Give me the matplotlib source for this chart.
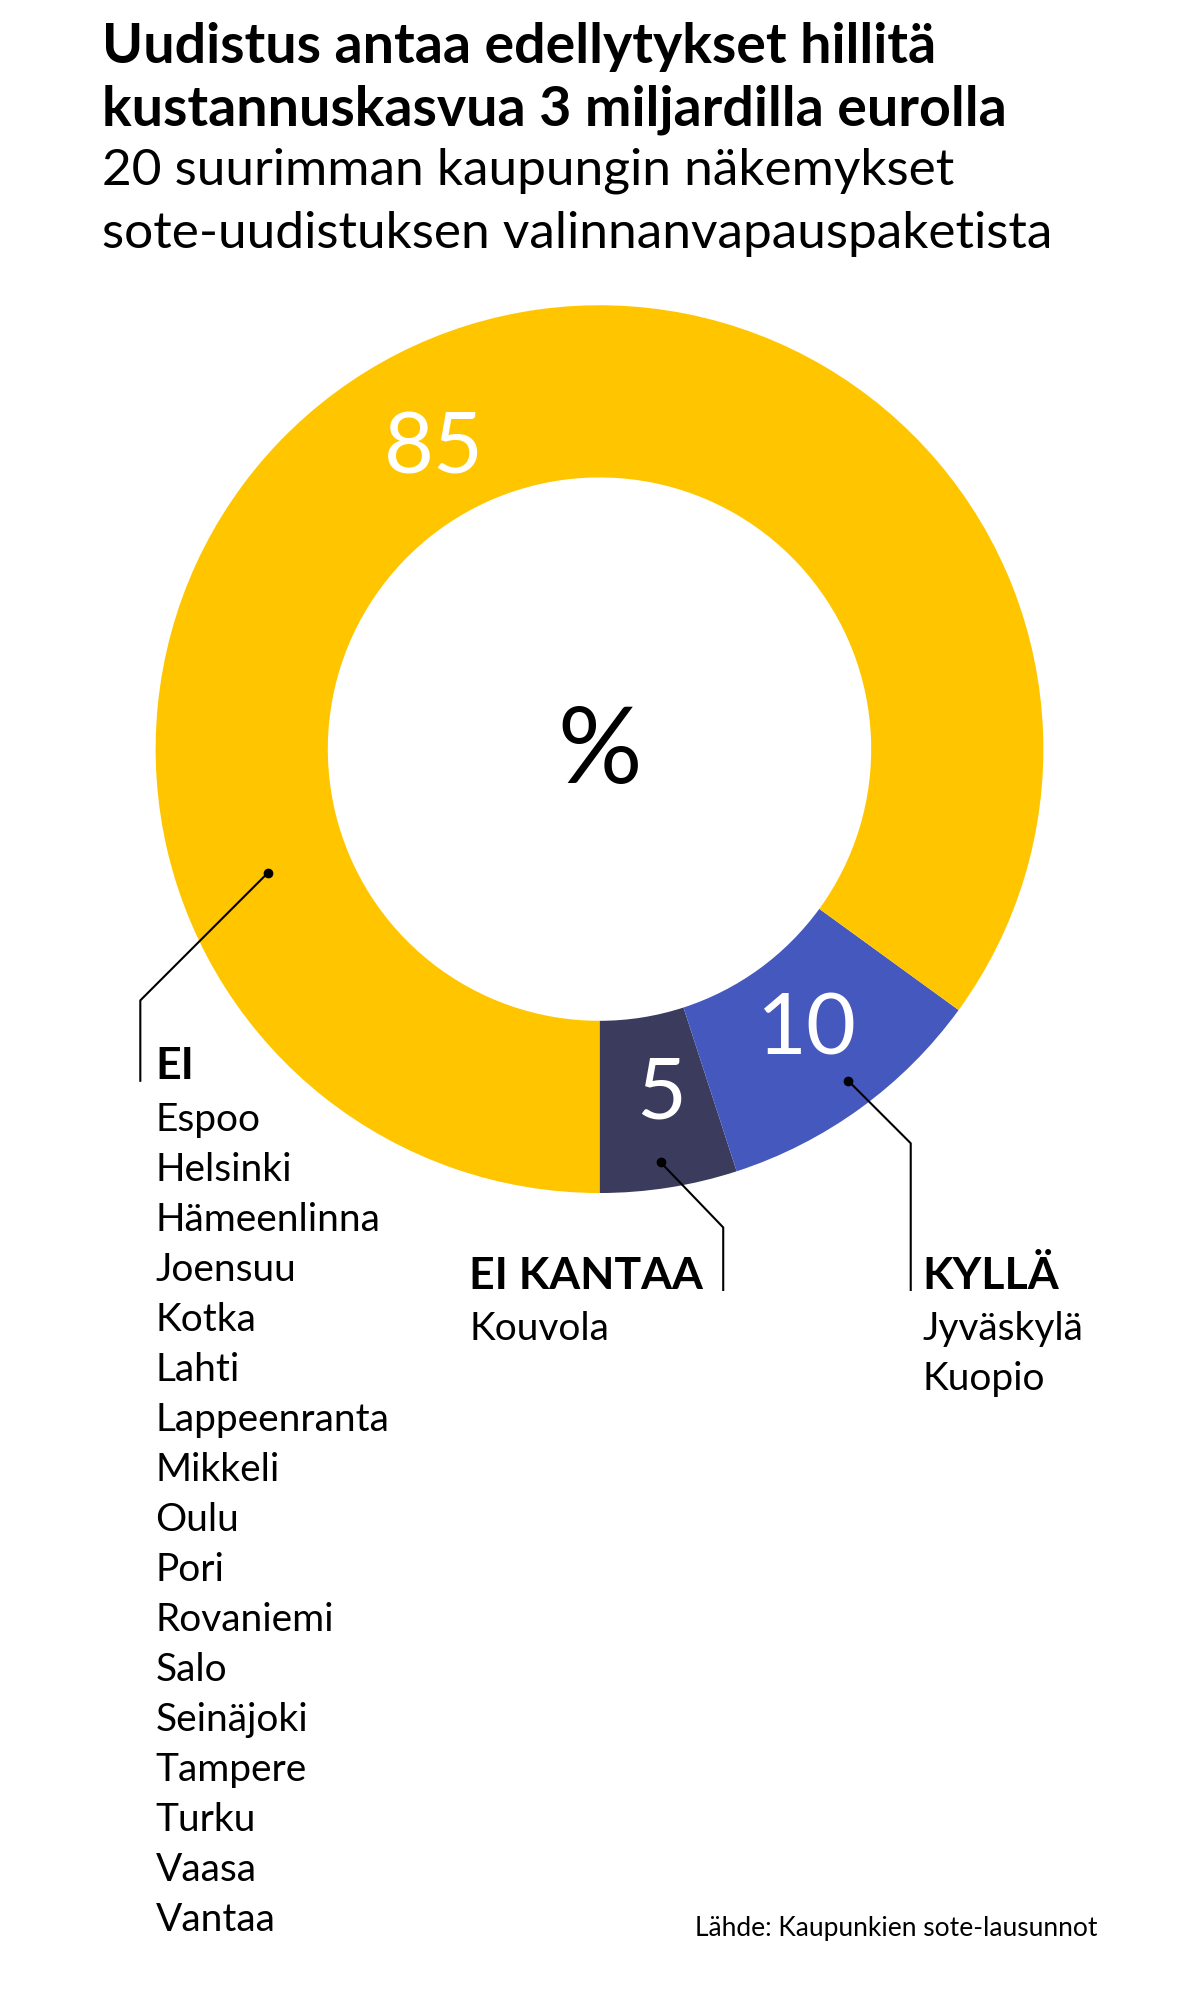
import matplotlib.pyplot as plt

# data
groups = ["EI KANTAA", "KYLLÄ", "EI"]
shares = [5, 10, 85]
colors = ["#3b3b5e", "#4558be", "#ffc600"]
ei_cities = ["Espoo", "Helsinki", "Hämeenlinna", "Joensuu", "Kotka", "Lahti",
             "Lappeenranta", "Mikkeli", "Oulu", "Pori", "Rovaniemi", "Salo",
             "Seinäjoki", "Tampere", "Turku", "Vaasa", "Vantaa"]
kylla_cities = ["Jyväskylä", "Kuopio"]
eikantaa_cities = ["Kouvola"]

W, H = 940, 1567  # working coordinate frame


def Y(y):
    return H - y


fig = plt.figure(figsize=(11.99, 19.99), dpi=100)
ax = fig.add_axes([0, 0, 1, 1])

cx, cy, r_out, r_in = 470, 588, 348, 213
ax.pie(shares, colors=colors, startangle=-90, counterclock=True,
       center=(cx, Y(cy)), radius=r_out,
       wedgeprops=dict(width=r_out - r_in, linewidth=0), frame=True)
ax.set_xlim(0, W)
ax.set_ylim(0, H)
ax.set_aspect("equal")
ax.axis("off")

fam = "Lato"
ax.text(80, Y(37), "Uudistus antaa edellytykset hillitä", fontsize=40,
        fontweight="bold", family=fam, va="center")
ax.text(80, Y(86), "kustannuskasvua 3 miljardilla eurolla", fontsize=40,
        fontweight="bold", family=fam, va="center")
ax.text(80, Y(134), "20 suurimman kaupungin näkemykset", fontsize=37, family=fam, va="center")
ax.text(80, Y(183), "sote-uudistuksen valinnanvapauspaketista", fontsize=37, family=fam, va="center")

# values in the ring
ax.text(340, Y(352), str(shares[2]), fontsize=62, color="white", family=fam, ha="center", va="center")
ax.text(633, Y(808), str(shares[1]), fontsize=62, color="white", family=fam, ha="center", va="center")
ax.text(518, Y(858), str(shares[0]), fontsize=62, color="white", family=fam, ha="center", va="center")
ax.text(470, Y(590), "%", fontsize=76, color="black", family=fam, ha="center", va="center")

# leader lines
for pts in ([(210, 685), (110, 785), (110, 848)],
            [(518, 912), (567, 963), (567, 1012)],
            [(665, 848), (714, 897), (714, 1012)]):
    ax.plot([p[0] for p in pts], [Y(p[1]) for p in pts], color="black", lw=1.5)
    ax.plot(pts[0][0], Y(pts[0][1]), "o", color="black", ms=6)

step = 39.2
ax.text(122, Y(836), groups[2], fontsize=32, fontweight="bold", family=fam, va="center")
for i, c in enumerate(ei_cities):
    ax.text(122, Y(878 + i * step), c, fontsize=28, family=fam, va="center")

ax.text(368, Y(1000), groups[0], fontsize=32, fontweight="bold", family=fam, va="center")
for i, c in enumerate(eikantaa_cities):
    ax.text(368, Y(1042 + i * step), c, fontsize=28, family=fam, va="center")

ax.text(723, Y(1000), groups[1], fontsize=32, fontweight="bold", family=fam, va="center")
for i, c in enumerate(kylla_cities):
    ax.text(723, Y(1042 + i * step), c, fontsize=28, family=fam, va="center")

ax.text(545, Y(1512), "Lähde: Kaupunkien sote-lausunnot", fontsize=19, family=fam, va="center")

fig.savefig("out.png", dpi=100, facecolor="white")
